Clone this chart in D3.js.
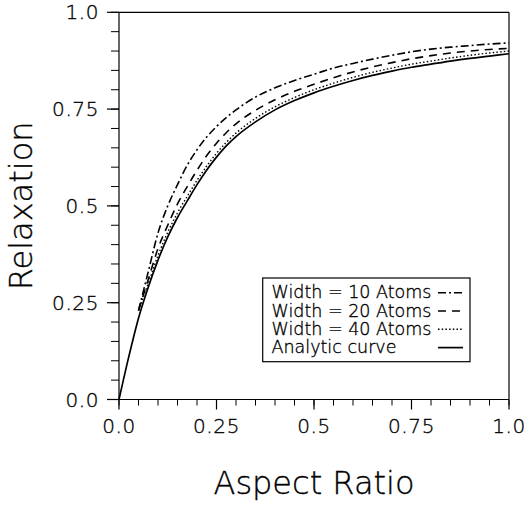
<!DOCTYPE html>
<html>
<head>
<meta charset="utf-8">
<script src="https://cdn.jsdelivr.net/npm/d3@7"></script>
<style>
  html, body { margin: 0; padding: 0; background: #fff; }
  svg { display: block; }
  text { font-family: "DejaVu Sans", sans-serif; font-weight: 200; fill: #000; stroke: #000; stroke-width: 0.35; }
</style>
</head>
<body>
<svg id="chart" width="527" height="506"></svg>
<script>
// ---- data ----
const xAnalytic = [0, 0.025, 0.05, 0.075, 0.1, 0.125, 0.15, 0.175, 0.2, 0.225, 0.25, 0.275, 0.3, 0.35, 0.4, 0.45, 0.5, 0.55, 0.6, 0.65, 0.7, 0.75, 0.8, 0.85, 0.9, 0.95, 1.0];
const analytic  = [0, 0.11, 0.21, 0.29, 0.36, 0.42, 0.47, 0.513, 0.555, 0.593, 0.626, 0.655, 0.679, 0.717, 0.748, 0.772, 0.792, 0.809, 0.824, 0.837, 0.848, 0.858, 0.866, 0.874, 0.881, 0.887, 0.893];

const xSim = [0.05, 0.075, 0.1, 0.125, 0.15, 0.175, 0.2, 0.225, 0.25, 0.275, 0.3, 0.35, 0.4, 0.45, 0.5, 0.55, 0.6, 0.65, 0.7, 0.75, 0.8, 0.85, 0.9, 0.95, 1.0];
const width10 = [0.23, 0.33, 0.43, 0.50, 0.555, 0.605, 0.645, 0.678, 0.705, 0.728, 0.748, 0.781, 0.805, 0.824, 0.84, 0.856, 0.868, 0.879, 0.889, 0.898, 0.905, 0.91, 0.914, 0.918, 0.921];
const width20 = [0.23, 0.31, 0.39, 0.45, 0.505, 0.55, 0.592, 0.63, 0.662, 0.689, 0.712, 0.747, 0.774, 0.796, 0.814, 0.831, 0.846, 0.859, 0.87, 0.88, 0.888, 0.895, 0.9, 0.904, 0.907];
const width40 = [0.23, 0.30, 0.372, 0.432, 0.482, 0.525, 0.566, 0.603, 0.636, 0.664, 0.688, 0.726, 0.756, 0.78, 0.8, 0.817, 0.832, 0.845, 0.856, 0.866, 0.874, 0.882, 0.889, 0.895, 0.90];

const xTicks = [0, 0.25, 0.5, 0.75, 1.0];
const xTickLabels = ["0.0", "0.25", "0.5", "0.75", "1.0"];
const yTicks = [0, 0.25, 0.5, 0.75, 1.0];
const yTickLabels = ["0.0", "0.25", "0.5", "0.75", "1.0"];
const legendLabels = ["Width = 10 Atoms", "Width = 20 Atoms", "Width = 40 Atoms", "Analytic curve"];
const xTitle = "Aspect Ratio";
const yTitle = "Relaxation";

// ---- layout ----
const L = 119, R = 509, T = 12.3, B = 399.5;
const svg = d3.select("#chart");
const x = d3.scaleLinear().domain([0, 1]).range([L, R]);
const y = d3.scaleLinear().domain([0, 1]).range([B, T]);

const ink = "#000";

// frame (top and right)
svg.append("line").attr("x1", L).attr("x2", R).attr("y1", T).attr("y2", T).attr("stroke", ink).attr("stroke-width", 1.2);
svg.append("line").attr("x1", R).attr("x2", R).attr("y1", T).attr("y2", B).attr("stroke", ink).attr("stroke-width", 1.2);

// x axis
const minor = d3.range(0, 1.0001, 0.05);
const xAxis = svg.append("g").attr("transform", `translate(0,${B})`);
xAxis.append("line").attr("x1", L).attr("x2", R).attr("stroke", ink).attr("stroke-width", 1.2);
xAxis.selectAll("line.minor").data(minor).join("line").attr("class", "minor")
  .attr("x1", d => x(d)).attr("x2", d => x(d)).attr("y1", 0).attr("y2", 6)
  .attr("stroke", ink).attr("stroke-width", 1);
xAxis.selectAll("line.major").data(xTicks).join("line").attr("class", "major")
  .attr("x1", d => x(d)).attr("x2", d => x(d)).attr("y1", 0).attr("y2", 10)
  .attr("stroke", ink).attr("stroke-width", 1.2);
xAxis.selectAll("text").data(xTicks).join("text")
  .attr("x", d => x(d)).attr("y", 33.5).attr("text-anchor", "middle")
  .attr("font-size", 20).attr("letter-spacing", 0.6).text((d, i) => xTickLabels[i]);

// y axis
const yAxis = svg.append("g").attr("transform", `translate(${L},0)`);
yAxis.append("line").attr("y1", T).attr("y2", B).attr("stroke", ink).attr("stroke-width", 1.2);
yAxis.selectAll("line.minor").data(minor).join("line").attr("class", "minor")
  .attr("y1", d => y(d)).attr("y2", d => y(d)).attr("x1", 0).attr("x2", -8)
  .attr("stroke", ink).attr("stroke-width", 1);
yAxis.selectAll("line.major").data(yTicks).join("line").attr("class", "major")
  .attr("y1", d => y(d)).attr("y2", d => y(d)).attr("x1", 0).attr("x2", -12)
  .attr("stroke", ink).attr("stroke-width", 1.2);
yAxis.selectAll("text").data(yTicks).join("text")
  .attr("x", -20).attr("y", d => y(d) + 7).attr("text-anchor", "end")
  .attr("font-size", 20).attr("letter-spacing", 0.6).text((d, i) => yTickLabels[i]);

// titles
svg.append("text").attr("x", (L + R) / 2).attr("y", 494).attr("text-anchor", "middle")
  .attr("font-size", 32).text(xTitle);
svg.append("text").attr("transform", `translate(32,${(T + B) / 2}) rotate(-90)`)
  .attr("text-anchor", "middle").attr("font-size", 32).text(yTitle);

// curves
const line = d3.line().x(d => x(d[0])).y(d => y(d[1])).curve(d3.curveMonotoneX);
const styles = [
  { dash: "8,3,2,3", w: 1.6 },
  { dash: "8,6", w: 1.6 },
  { dash: "1.5,2.2", w: 1.4 },
  { dash: null, w: 1.7 }
];
const series = [
  d3.zip(xSim, width10),
  d3.zip(xSim, width20),
  d3.zip(xSim, width40),
  d3.zip(xAnalytic, analytic)
];
series.forEach((s, i) => {
  svg.append("path").datum(s).attr("d", line).attr("fill", "none")
    .attr("stroke", ink).attr("stroke-width", styles[i].w)
    .attr("stroke-dasharray", styles[i].dash);
});

// legend
const lg = svg.append("g");
lg.append("rect").attr("x", 262.7).attr("y", 278).attr("width", 207.3).attr("height", 83.7)
  .attr("fill", "#fff").attr("stroke", ink).attr("stroke-width", 1.2);
legendLabels.forEach((lab, i) => {
  const by = 298.3 + i * 18.3;
  lg.append("text").attr("x", 271.5).attr("y", by).attr("font-size", 17.5).text(lab);
  lg.append("line").attr("x1", 438).attr("x2", 463).attr("y1", by - 5.6).attr("y2", by - 5.6)
    .attr("stroke", ink).attr("stroke-width", styles[i].w).attr("stroke-dasharray", styles[i].dash);
});
</script>
</body>
</html>
